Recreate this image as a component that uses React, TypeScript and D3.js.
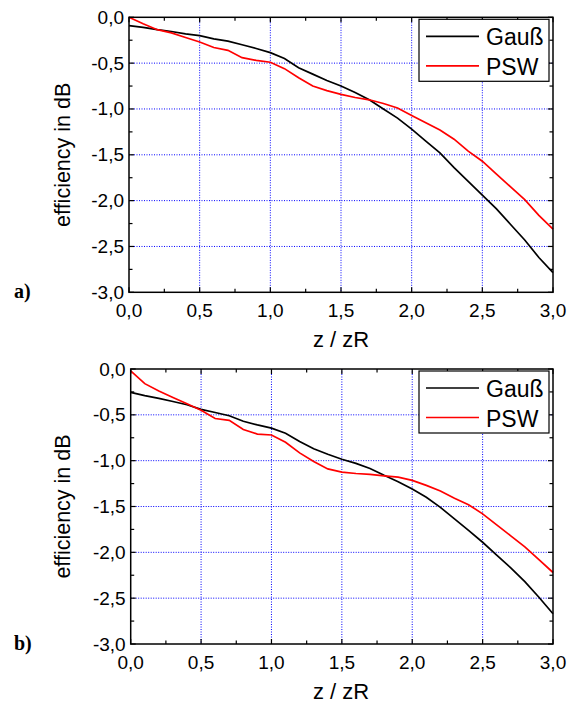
import * as d3 from "d3";

const zValues = d3.range(0, 31).map((i) => i / 10);

const gaussA = [
  -0.09, -0.11, -0.135, -0.155, -0.18, -0.2, -0.235, -0.26, -0.3, -0.34, -0.385,
  -0.45, -0.55, -0.62, -0.69, -0.75, -0.82, -0.9, -1.0, -1.1, -1.22,
  -1.35, -1.48, -1.64, -1.79, -1.94, -2.09, -2.26, -2.43, -2.62, -2.785,
];
const pswA = [
  0.0, -0.07, -0.135, -0.17, -0.22, -0.27, -0.33, -0.36, -0.44, -0.47, -0.49,
  -0.56, -0.66, -0.75, -0.8, -0.84, -0.875, -0.9, -0.94, -0.99, -1.07,
  -1.15, -1.23, -1.33, -1.46, -1.57, -1.71, -1.85, -1.99, -2.16, -2.31,
];
const gaussB = [
  -0.255, -0.29, -0.32, -0.355, -0.39, -0.44, -0.475, -0.51, -0.57, -0.61, -0.645,
  -0.7, -0.79, -0.87, -0.93, -0.985, -1.03, -1.085, -1.16, -1.23, -1.31,
  -1.4, -1.51, -1.635, -1.76, -1.89, -2.03, -2.17, -2.32, -2.49, -2.67,
];
const pswB = [
  -0.02, -0.16, -0.24, -0.31, -0.38, -0.45, -0.54, -0.56, -0.66, -0.71, -0.72,
  -0.8, -0.915, -1.01, -1.09, -1.125, -1.14, -1.15, -1.165, -1.18, -1.215,
  -1.27, -1.33, -1.41, -1.48, -1.58, -1.7, -1.82, -1.94, -2.08, -2.22,
];

const xTicks = [0, 0.5, 1, 1.5, 2, 2.5, 3];
const yTicks = [0, -0.5, -1, -1.5, -2, -2.5, -3];
const xMinor = [0.25, 0.75, 1.25, 1.75, 2.25, 2.75];
const yMinor = [-0.25, -0.75, -1.25, -1.75, -2.25, -2.75];
const seriesNames = ["Gauß", "PSW"];
const seriesColors = ["#000000", "#ff0000"];

const fmt = (v: number) => d3.format(".1f")(v).replace(".", ",").replace("−", "-");
const sans = "Liberation Sans, Arial, sans-serif";

type PanelProps = {
  top: number;
  left: number;
  label: string;
  gauss: number[];
  psw: number[];
};

function Panel({ top, left, label, gauss, psw }: PanelProps) {
  const x = d3.scaleLinear().domain([0, 3]).range([left, 553]);
  const y = d3.scaleLinear().domain([0, -3]).range([top, top + 275]);
  const line = d3
    .line<number>()
    .x((_, i) => x(zValues[i]))
    .y((d) => y(d));

  const x0 = x(0);
  const x1 = x(3);
  const y0 = y(0);
  const y1 = y(-3);

  const lx = 419;
  const ly = top + 2;

  return (
    <g>
      {/* grid */}
      {xTicks.slice(1, -1).map((t) => (
        <line key={"gx" + t} x1={x(t)} x2={x(t)} y1={y0} y2={y1}
          stroke="#0000ff" strokeWidth={1} strokeDasharray="1 1.5" />
      ))}
      {yTicks.slice(1, -1).map((t) => (
        <line key={"gy" + t} x1={x0} x2={x1} y1={y(t)} y2={y(t)}
          stroke="#0000ff" strokeWidth={1} strokeDasharray="1 1.5" />
      ))}

      {/* curves */}
      <path d={line(gauss) ?? ""} fill="none" stroke={seriesColors[0]} strokeWidth={1.7} />
      <path d={line(psw) ?? ""} fill="none" stroke={seriesColors[1]} strokeWidth={1.7} />

      {/* frame */}
      <rect x={x0} y={y0} width={x1 - x0} height={y1 - y0} fill="none" stroke="#000" strokeWidth={1.5} />

      {/* ticks */}
      {xTicks.concat(xMinor).map((t) => {
        const len = xTicks.includes(t) ? 5 : 3.5;
        return (
          <g key={"tx" + t}>
            <line x1={x(t)} x2={x(t)} y1={y1} y2={y1 - len} stroke="#000" strokeWidth={1.2} />
            <line x1={x(t)} x2={x(t)} y1={y0} y2={y0 + len} stroke="#000" strokeWidth={1.2} />
          </g>
        );
      })}
      {yTicks.concat(yMinor).map((t) => {
        const len = yTicks.includes(t) ? 5 : 3.5;
        return (
          <g key={"ty" + t}>
            <line x1={x0} x2={x0 + len} y1={y(t)} y2={y(t)} stroke="#000" strokeWidth={1.2} />
            <line x1={x1} x2={x1 - len} y1={y(t)} y2={y(t)} stroke="#000" strokeWidth={1.2} />
          </g>
        );
      })}

      {/* tick labels */}
      {xTicks.map((t) => (
        <text key={"lx" + t} x={x(t)} y={y1 + 25} textAnchor="middle"
          fontFamily={sans} fontSize={19} fill="#000">{fmt(t)}</text>
      ))}
      {yTicks.map((t) => (
        <text key={"ly" + t} x={x0 - 5} y={y(t) + 6.5} textAnchor="end"
          fontFamily={sans} fontSize={19} fill="#000">{fmt(t)}</text>
      ))}

      {/* axis titles */}
      <text x={341} y={y1 + 55} textAnchor="middle" fontFamily={sans} fontSize={22} fill="#000">
        z / zR
      </text>
      <text transform={`translate(70,${(y0 + y1) / 2}) rotate(-90)`} textAnchor="middle"
        fontFamily={sans} fontSize={21.5} fill="#000">
        efficiency in dB
      </text>

      {/* panel label */}
      <text x={14} y={y1 + 6} fontFamily="Liberation Serif, Times New Roman, serif"
        fontWeight="bold" fontSize={20} fill="#000">{label}</text>

      {/* legend */}
      <rect x={lx} y={ly} width={130} height={62} fill="#fff" stroke="#000" strokeWidth={1.2} />
      {seriesNames.map((name, i) => (
        <g key={name}>
          <line x1={lx + 7} x2={lx + 60} y1={ly + 17 + i * 29.5} y2={ly + 17 + i * 29.5}
            stroke={seriesColors[i]} strokeWidth={1.7} />
          <text x={lx + 67} y={ly + 26 + i * 29.5} fontFamily={sans} fontSize={23} fill="#000">
            {name}
          </text>
        </g>
      ))}
    </g>
  );
}

export default function App() {
  return (
    <svg width={573} height={704} style={{ position: "absolute", left: 0, top: 0, background: "#fff" }}>
      <rect width={573} height={704} fill="#fff" />
      <Panel top={17.3} left={129} label="a)" gauss={gaussA} psw={pswA} />
      <Panel top={369} left={130.7} label="b)" gauss={gaussB} psw={pswB} />
    </svg>
  );
}
